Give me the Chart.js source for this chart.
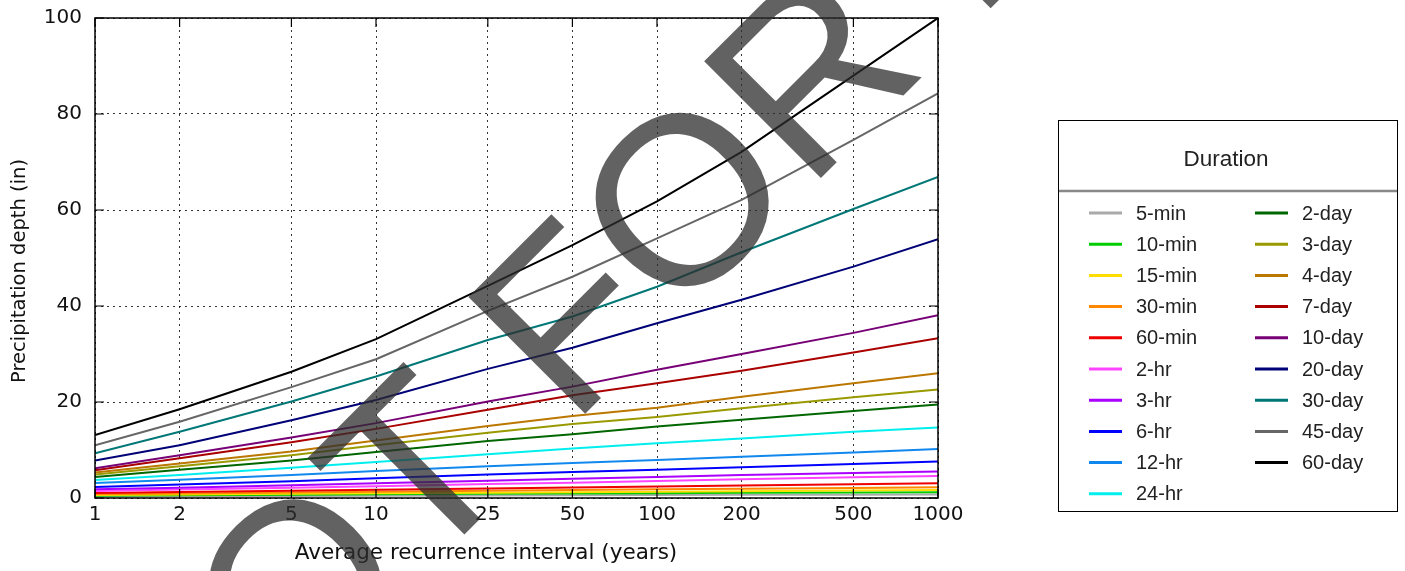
<!DOCTYPE html>
<html>
<head>
<meta charset="utf-8">
<script src="https://cdn.jsdelivr.net/npm/chart.js@4.4.1/dist/chart.umd.min.js"></script>
<style>
  html, body { margin: 0; padding: 0; background: #fff; }
  #wrap { width: 1405px; height: 571px; position: relative; }
</style>
</head>
<body>
<div id="wrap"><canvas id="ddfChart" width="1405" height="571"></canvas></div>
<script>
// Average recurrence intervals (years)
const returnPeriods = [1, 2, 5, 10, 25, 50, 100, 200, 500, 1000];
const xTickValues = [1, 2, 5, 10, 25, 50, 100, 200, 500, 1000];
const yTickValues = [0, 20, 40, 60, 80, 100];

const durations = ['5-min', '10-min', '15-min', '30-min', '60-min', '2-hr', '3-hr', '6-hr', '12-hr', '24-hr',
                   '2-day', '3-day', '4-day', '7-day', '10-day', '20-day', '30-day', '45-day', '60-day'];

// Precipitation depth (in) per duration
const depth5min  = [0.3, 0.36, 0.43, 0.48, 0.54, 0.58, 0.62, 0.66, 0.7, 0.74];
const depth10min = [0.48, 0.57, 0.68, 0.76, 0.86, 0.93, 1.0, 1.07, 1.15, 1.22];
const depth15min = [0.6, 0.72, 0.86, 0.97, 1.1, 1.2, 1.3, 1.4, 1.55, 1.67];
const depth30min = [0.8, 0.96, 1.15, 1.3, 1.5, 1.65, 1.8, 1.95, 2.1, 2.25];
const depth60min = [1.05, 1.25, 1.52, 1.72, 2.0, 2.2, 2.4, 2.6, 2.85, 3.05];
const depth2hr   = [1.45, 1.75, 2.15, 2.45, 2.9, 3.2, 3.55, 3.9, 4.3, 4.6];
const depth3hr   = [1.8, 2.15, 2.65, 3.05, 3.6, 4.0, 4.4, 4.8, 5.2, 5.5];
const depth6hr   = [2.3, 2.8, 3.5, 4.1, 4.9, 5.4, 5.9, 6.4, 7.1, 7.6];
const depth12hr  = [3.1, 3.8, 4.8, 5.6, 6.6, 7.3, 7.9, 8.6, 9.5, 10.2];
const depth24hr  = [3.75, 4.8, 6.3, 7.5, 9.1, 10.3, 11.4, 12.4, 13.8, 14.7];
const depth2day  = [4.4, 5.9, 7.8, 9.6, 11.9, 13.3, 14.9, 16.3, 18.1, 19.5];
const depth3day  = [4.9, 6.6, 8.9, 11.0, 13.6, 15.4, 16.9, 18.7, 21.0, 22.6];
const depth4day  = [5.3, 7.2, 9.7, 12.0, 15.0, 17.1, 18.8, 21.1, 23.9, 26.0];
const depth7day  = [5.8, 8.3, 11.6, 14.4, 18.4, 21.4, 23.9, 26.5, 30.3, 33.3];
const depth10day = [6.2, 8.9, 12.6, 15.6, 20.1, 23.2, 26.7, 30.0, 34.4, 38.1];
const depth20day = [7.8, 11.0, 16.2, 20.4, 26.9, 31.3, 36.4, 41.3, 48.2, 53.9];
const depth30day = [9.3, 13.8, 20.1, 25.3, 32.9, 37.8, 44.0, 51.2, 60.2, 66.9];
const depth45day = [11.0, 15.9, 23.1, 28.9, 39.0, 46.1, 54.1, 62.1, 74.6, 84.3];
const depth60day = [13.1, 18.5, 26.3, 33.1, 44.2, 52.7, 61.8, 72.1, 88.0, 100.0];

const allDepths = [depth5min, depth10min, depth15min, depth30min, depth60min, depth2hr, depth3hr, depth6hr,
                   depth12hr, depth24hr, depth2day, depth3day, depth4day, depth7day, depth10day, depth20day,
                   depth30day, depth45day, depth60day];

const lineColors = ['#aaaaaa', '#00cc00', '#ffdd00', '#ff8800', '#ee0000', '#ff44ff', '#aa00ff', '#0000ff',
                    '#1188ee', '#00eeee', '#006600', '#999900', '#bb7700', '#aa0000', '#770077', '#000077',
                    '#007777', '#666666', '#000000'];

const tickFont = { family: 'DejaVu Sans', size: 20 };

// frame, inward ticks, axis titles, legend box and the stamp
const decorations = {
    id: 'decorations',
    afterDraw(chart) {
        const ctx = chart.ctx;
        const a = chart.chartArea;
        const xs = chart.scales.x, ys = chart.scales.y;
        ctx.save();

        ctx.strokeStyle = '#000';
        ctx.lineWidth = 1.5;
        ctx.strokeRect(a.left, a.top, a.right - a.left, a.bottom - a.top);

        ctx.lineWidth = 1.2;
        ctx.beginPath();
        xTickValues.forEach(v => {
            const px = xs.getPixelForValue(v);
            ctx.moveTo(px, a.bottom); ctx.lineTo(px, a.bottom - 9);
            ctx.moveTo(px, a.top); ctx.lineTo(px, a.top + 9);
        });
        yTickValues.forEach(v => {
            const py = ys.getPixelForValue(v);
            ctx.moveTo(a.left, py); ctx.lineTo(a.left + 9, py);
            ctx.moveTo(a.right, py); ctx.lineTo(a.right - 9, py);
        });
        ctx.stroke();

        // axis titles
        ctx.fillStyle = '#111';
        ctx.textAlign = 'center';
        ctx.textBaseline = 'middle';
        ctx.font = '21.5px "DejaVu Sans"';
        ctx.fillText('Average recurrence interval (years)', 486, 553);
        ctx.save();
        ctx.font = '19.5px "DejaVu Sans"';
        ctx.translate(20, 271);
        ctx.rotate(-Math.PI / 2);
        ctx.fillText('Precipitation depth (in)', 0, 0);
        ctx.restore();

        // legend
        const box = { left: 1058, top: 120, right: 1397, bottom: 511 };
        ctx.lineWidth = 1;
        ctx.strokeStyle = '#000';
        ctx.strokeRect(box.left + 0.5, box.top + 0.5, box.right - box.left, box.bottom - box.top);
        ctx.font = '22.5px "Liberation Sans"';
        ctx.fillStyle = '#222';
        ctx.fillText('Duration', 1226, 160);
        ctx.strokeStyle = '#888';
        ctx.lineWidth = 2.5;
        ctx.beginPath();
        ctx.moveTo(box.left + 1, 191); ctx.lineTo(box.right, 191);
        ctx.stroke();

        ctx.font = '20px "Liberation Sans"';
        ctx.textAlign = 'left';
        chart.data.datasets.forEach((ds, i) => {
            const col = i < 10 ? 0 : 1;
            const row = i < 10 ? i : i - 10;
            const y = 213 + row * 31.2;
            const x0 = col === 0 ? 1089 : 1255;
            ctx.strokeStyle = ds.borderColor;
            ctx.lineWidth = 3;
            ctx.beginPath();
            ctx.moveTo(x0, y); ctx.lineTo(x0 + 33, y);
            ctx.stroke();
            ctx.fillStyle = '#222';
            ctx.fillText(ds.label, x0 + 47, y + 1);
        });

        // stamp across the plot
        ctx.fillStyle = 'rgba(45, 45, 45, 0.75)';
        ctx.font = '240px "Liberation Sans"';
        ctx.textAlign = 'left';
        ctx.textBaseline = 'alphabetic';
        ctx.translate(166, 833);
        ctx.rotate(-Math.PI / 4);
        ctx.fillText('NOT FOR PUBLICATION', 0, 0);

        ctx.restore();
    }
};

new Chart(document.getElementById('ddfChart'), {
    type: 'line',
    data: {
        datasets: durations.map((name, i) => ({
            label: name,
            data: returnPeriods.map((t, j) => ({ x: t, y: allDepths[i][j] })),
            borderColor: lineColors[i],
            backgroundColor: lineColors[i],
            borderWidth: 2,
            pointRadius: 0,
            tension: 0,
            fill: false,
            order: durations.length - i
        }))
    },
    options: {
        responsive: false,
        animation: false,
        events: [],
        layout: { padding: { top: 18, right: 467, left: 0, bottom: 0 } },
        plugins: {
            legend: { display: false },
            tooltip: { enabled: false },
            title: { display: false }
        },
        scales: {
            x: {
                type: 'logarithmic',
                min: 1,
                max: 1000,
                afterBuildTicks: scale => { scale.ticks = xTickValues.map(v => ({ value: v })); },
                afterFit: scale => { scale.height = 73; },
                ticks: {
                    autoSkip: false,
                    maxRotation: 0,
                    padding: 5,
                    color: '#111',
                    font: tickFont,
                    callback: value => String(value)
                },
                grid: { color: 'rgba(0,0,0,0.8)', lineWidth: 1, drawTicks: false },
                border: { display: false, dash: [2, 4] }
            },
            y: {
                type: 'linear',
                min: 0,
                max: 100,
                afterBuildTicks: scale => { scale.ticks = yTickValues.map(v => ({ value: v })); },
                afterFit: scale => {
                    scale.width = 95;
                    scale.paddingTop = 0;
                    scale.paddingBottom = 0;
                },
                ticks: {
                    padding: 13,
                    color: '#111',
                    font: tickFont
                },
                grid: { color: 'rgba(0,0,0,0.8)', lineWidth: 1, drawTicks: false },
                border: { display: false, dash: [2, 4] }
            }
        }
    },
    plugins: [decorations]
});
</script>
</body>
</html>
